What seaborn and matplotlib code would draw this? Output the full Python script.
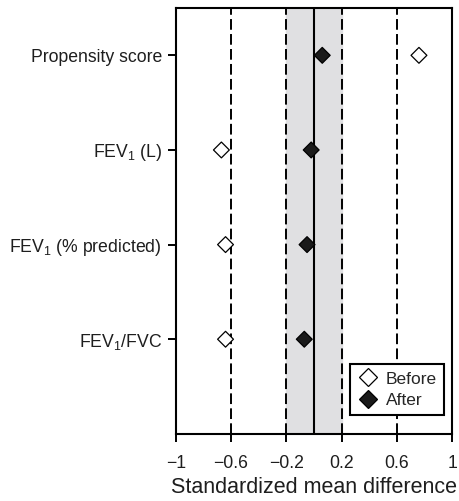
import matplotlib
matplotlib.use('Agg')
import matplotlib.pyplot as plt
import seaborn as sns
import pandas as pd

# ---- data ----
covariates = ['Propensity score', 'FEV$_1$ (L)', 'FEV$_1$ (% predicted)', 'FEV$_1$/FVC']
ypos = [4, 3, 2, 1]
before = [0.76, -0.67, -0.64, -0.64]
after = [0.06, -0.02, -0.05, -0.07]
xticks = [-1, -0.6, -0.2, 0.2, 0.6, 1]
xticklabels = ['\u22121', '\u22120.6', '\u22120.2', '0.2', '0.6', '1']

df = pd.DataFrame({
    'y': ypos * 2,
    'smd': before + after,
    'when': ['Before'] * 4 + ['After'] * 4,
})

sns.set_theme(style='white')
plt.rcParams['font.family'] = ['Liberation Sans', 'DejaVu Sans']
plt.rcParams['mathtext.fontset'] = 'custom'
plt.rcParams['mathtext.rm'] = 'Liberation Sans'

fig = plt.figure(figsize=(4.59, 5.01), dpi=100)
ax = fig.add_axes([0.383, 0.134, 0.602, 0.85])

# shaded band and reference lines
ax.axvspan(-0.2, 0.2, color='#e0e0e2', zorder=0)
for v in [-0.6, -0.2, 0.2, 0.6]:
    ax.axvline(v, color='black', linestyle=(0, (5.5, 2.2)), linewidth=1.4, zorder=1)
ax.axvline(0, color='black', linewidth=1.5, zorder=1)

sns.scatterplot(data=df, x='smd', y='y', hue='when', style='when',
                palette={'Before': 'white', 'After': '#1a1a1a'},
                markers={'Before': 'D', 'After': 'D'},
                edgecolor='black', linewidth=0.9, s=65, ax=ax, zorder=3)

ax.set_xlim(-1, 1)
ax.set_ylim(0, 4.5)
ax.set_xticks(xticks)
ax.set_xticklabels(xticklabels)
ax.set_yticks(ypos)
ax.set_yticklabels(covariates)
ax.tick_params(axis='both', bottom=True, left=True, direction='out', length=6,
               width=1.4, color='black', labelsize=12.7, labelcolor='#1e1e1e')
ax.tick_params(axis='x', pad=9)
ax.tick_params(axis='y', pad=4)
for sp in ax.spines.values():
    sp.set_color('black')
    sp.set_linewidth(1.5)
ax.set_xlabel('Standardized mean difference', fontsize=15.5, color='#1e1e1e', labelpad=4)
ax.set_ylabel('')

leg = ax.legend(loc='lower right', bbox_to_anchor=(0.97, 0.045), fontsize=12.5,
                frameon=True, fancybox=False, handletextpad=0.45, markerscale=1.1,
                borderpad=0.4, labelspacing=0.35, handlelength=1.2, borderaxespad=0)
leg.get_frame().set_edgecolor('black')
leg.get_frame().set_linewidth(1.5)
leg.get_frame().set_alpha(1)

fig.savefig('out.png', dpi=100, facecolor='white')
